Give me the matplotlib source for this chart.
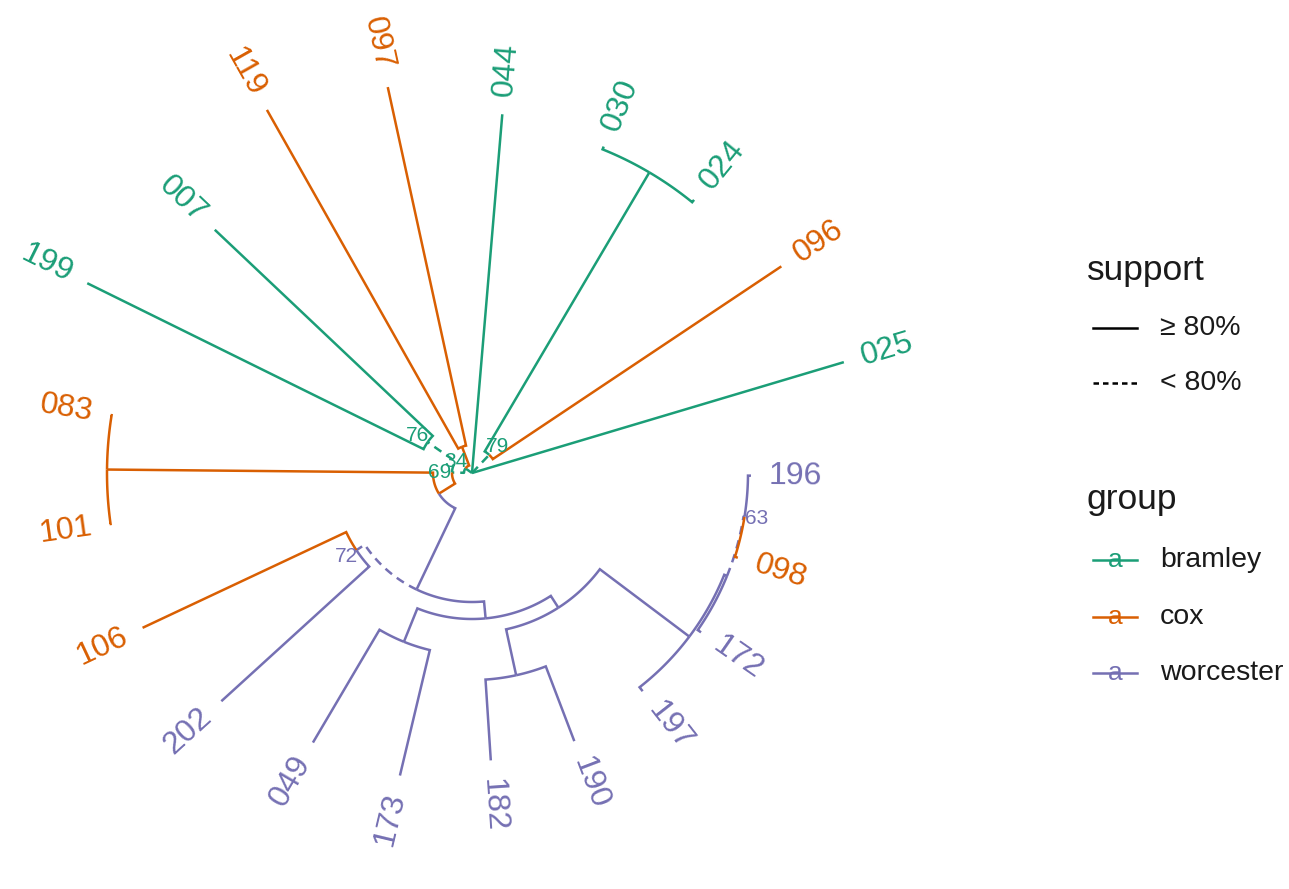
import numpy as np
import matplotlib
matplotlib.use("Agg")
import matplotlib.pyplot as plt
from matplotlib.lines import Line2D

# ---------------- data ----------------
node_names = ["root", "025", "n79", "096", "n2430", "024", "030", "044", "n34", "n97",
              "097", "119", "n69", "n76", "007", "199", "r1", "n0831", "083", "101",
              "nA", "nC", "106", "202", "nB", "nD", "049", "173", "nE", "nF",
              "182", "190", "nG", "197", "nH", "172", "n63", "098", "196"]
node_parent = [None, "root", "root", "n79", "n79", "n2430", "n2430", "root", "root", "n34",
               "n97", "n97", "n34", "n69", "n76", "n76", "n69", "r1", "n0831", "n0831",
               "r1", "nA", "nC", "nC", "nA", "nB", "nD", "nD", "nB", "nE",
               "nF", "nF", "nE", "nG", "nG", "nH", "nH", "n63", "n63"]
branch_length = [0.0, 0.388, 0.025, 0.347, 0.324, 0.003, 0.003, 0.360, 0.008, 0.020,
                 0.367, 0.389, 0.012, 0.034, 0.300, 0.375, 0.019, 0.326, 0.001, 0.001,
                 0.090, 0.010, 0.225, 0.200, 0.017, 0.036, 0.131, 0.129, 0.014, 0.047,
                 0.081, 0.080, 0.112, 0.005, 0.003, 0.004, 0.001, 0.003, 0.003]
support = [np.nan, np.nan, 79, np.nan, 100, np.nan, np.nan, np.nan, 34, 100,
           np.nan, np.nan, 69, 76, np.nan, np.nan, 100, 100, np.nan, np.nan,
           100, 72, np.nan, np.nan, 100, 100, np.nan, np.nan, 100, 100,
           np.nan, np.nan, 100, np.nan, 100, np.nan, 63, np.nan, np.nan]
group = ["bramley", "bramley", "bramley", "cox", "bramley", "bramley", "bramley", "bramley", "bramley", "cox",
         "cox", "cox", "bramley", "bramley", "bramley", "bramley", "cox", "cox", "cox", "cox",
         "worcester", "worcester", "cox", "worcester", "worcester", "worcester", "worcester", "worcester", "worcester", "worcester",
         "worcester", "worcester", "worcester", "worcester", "worcester", "worcester", "worcester", "cox", "worcester"]

group_names = ["bramley", "cox", "worcester"]
group_colors = ["#1B9E77", "#D95F02", "#7570B3"]
support_levels = ["\u2265 80%", "< 80%"]

# ---------------- layout ----------------
W, H = 1289, 889
SCALE = 1000.0           # px per branch-length unit
CX, CY = 472, 473        # tree centre (px from top-left)
THETA0 = 16.6            # angle of first tip (deg)

col = dict(zip(group_names, group_colors))
idx = {n: i for i, n in enumerate(node_names)}
children = {n: [] for n in node_names}
for n, p in zip(node_names, node_parent):
    if p is not None:
        children[p].append(n)

radius = {}
def set_r(n, r):
    radius[n] = r
    for c in children[n]:
        set_r(c, r + branch_length[idx[c]])
set_r("root", 0.0)

tips = []
def dfs(n):
    if not children[n]:
        tips.append(n)
    for c in children[n]:
        dfs(c)
dfs("root")
ntip = len(tips)
theta = {}
for i, t in enumerate(tips):
    theta[t] = THETA0 + i * 360.0 / ntip
def set_theta(n):
    if children[n]:
        theta[n] = np.mean([set_theta(c) for c in children[n]])
    return theta[n]
set_theta("root")

def xy(r, th):
    a = np.deg2rad(th)
    return r * np.cos(a), r * np.sin(a)

fig = plt.figure(figsize=(W / 100, H / 100), dpi=100)
ax = fig.add_axes([0, 0, 1, 1])
ax.set_xlim(-CX / SCALE, (W - CX) / SCALE)
ax.set_ylim(-(H - CY) / SCALE, CY / SCALE)
ax.axis("off")

LW = 1.8
DASH = (0, (3.4, 2.4))
for n, p in zip(node_names, node_parent):
    if p is None:
        continue
    rp, rn = radius[p], radius[n]
    t0, t1 = theta[p], theta[n]
    ths = np.linspace(t0, t1, 80)
    xs, ys = xy(rp, ths)
    x2, y2 = xy(rn, t1)
    xs = np.append(xs, x2)
    ys = np.append(ys, y2)
    s = support[idx[n]]
    ls = DASH if (not np.isnan(s) and s < 80) else "-"
    ax.plot(xs, ys, color=col[group[idx[n]]], lw=LW, linestyle=ls,
            solid_capstyle="butt", solid_joinstyle="miter")

FONT = "Liberation Sans"
OFF = 0.018
for t in tips:
    th = theta[t] % 360
    x, y = xy(radius[t] + OFF, th)
    if 90 < th < 270:
        rot, ha = th - 180, "right"
    else:
        rot, ha = (th if th <= 90 else th - 360), "left"
    ax.text(x, y, t, rotation=rot, rotation_mode="anchor", ha=ha, va="center",
            fontsize=23, family=FONT, color=col[group[idx[t]]])

for n in node_names:
    s = support[idx[n]]
    if children[n] and not np.isnan(s) and s < 80:
        x, y = xy(radius[n] + 0.012, theta[n])
        ax.text(x, y, f"{int(s)}", ha="center", va="center", fontsize=15,
                family=FONT, color=col[group[idx[n]]])

# ---------------- legend ----------------
def fx(x): return x / W
def fy(y): return 1 - y / H

fig.text(fx(1087), fy(280), "support", fontsize=25.5, family=FONT, color="#1a1a1a",
         ha="left", va="baseline")
for yy, lab, ls in zip([328, 383], support_levels, ["-", (0, (2.2, 1.6))]):
    fig.add_artist(Line2D([fx(1093), fx(1137)], [fy(yy), fy(yy)], color="black",
                          lw=LW, linestyle=ls, transform=fig.transFigure))
    fig.text(fx(1160), fy(yy), lab, fontsize=20.5, family=FONT, color="#1a1a1a",
             ha="left", va="center")

fig.text(fx(1087), fy(509), "group", fontsize=25.5, family=FONT, color="#1a1a1a",
         ha="left", va="baseline")
for yy, lab, c in zip([560, 617, 673], group_names, group_colors):
    fig.add_artist(Line2D([fx(1093), fx(1137)], [fy(yy), fy(yy)], color=c,
                          lw=LW, transform=fig.transFigure))
    fig.text(fx(1115), fy(yy), "a", fontsize=19, family=FONT, color=c,
             ha="center", va="center")
    fig.text(fx(1160), fy(yy), lab, fontsize=20.5, family=FONT, color="#1a1a1a",
             ha="left", va="center")

fig.savefig("out.png", dpi=100, facecolor="white")
